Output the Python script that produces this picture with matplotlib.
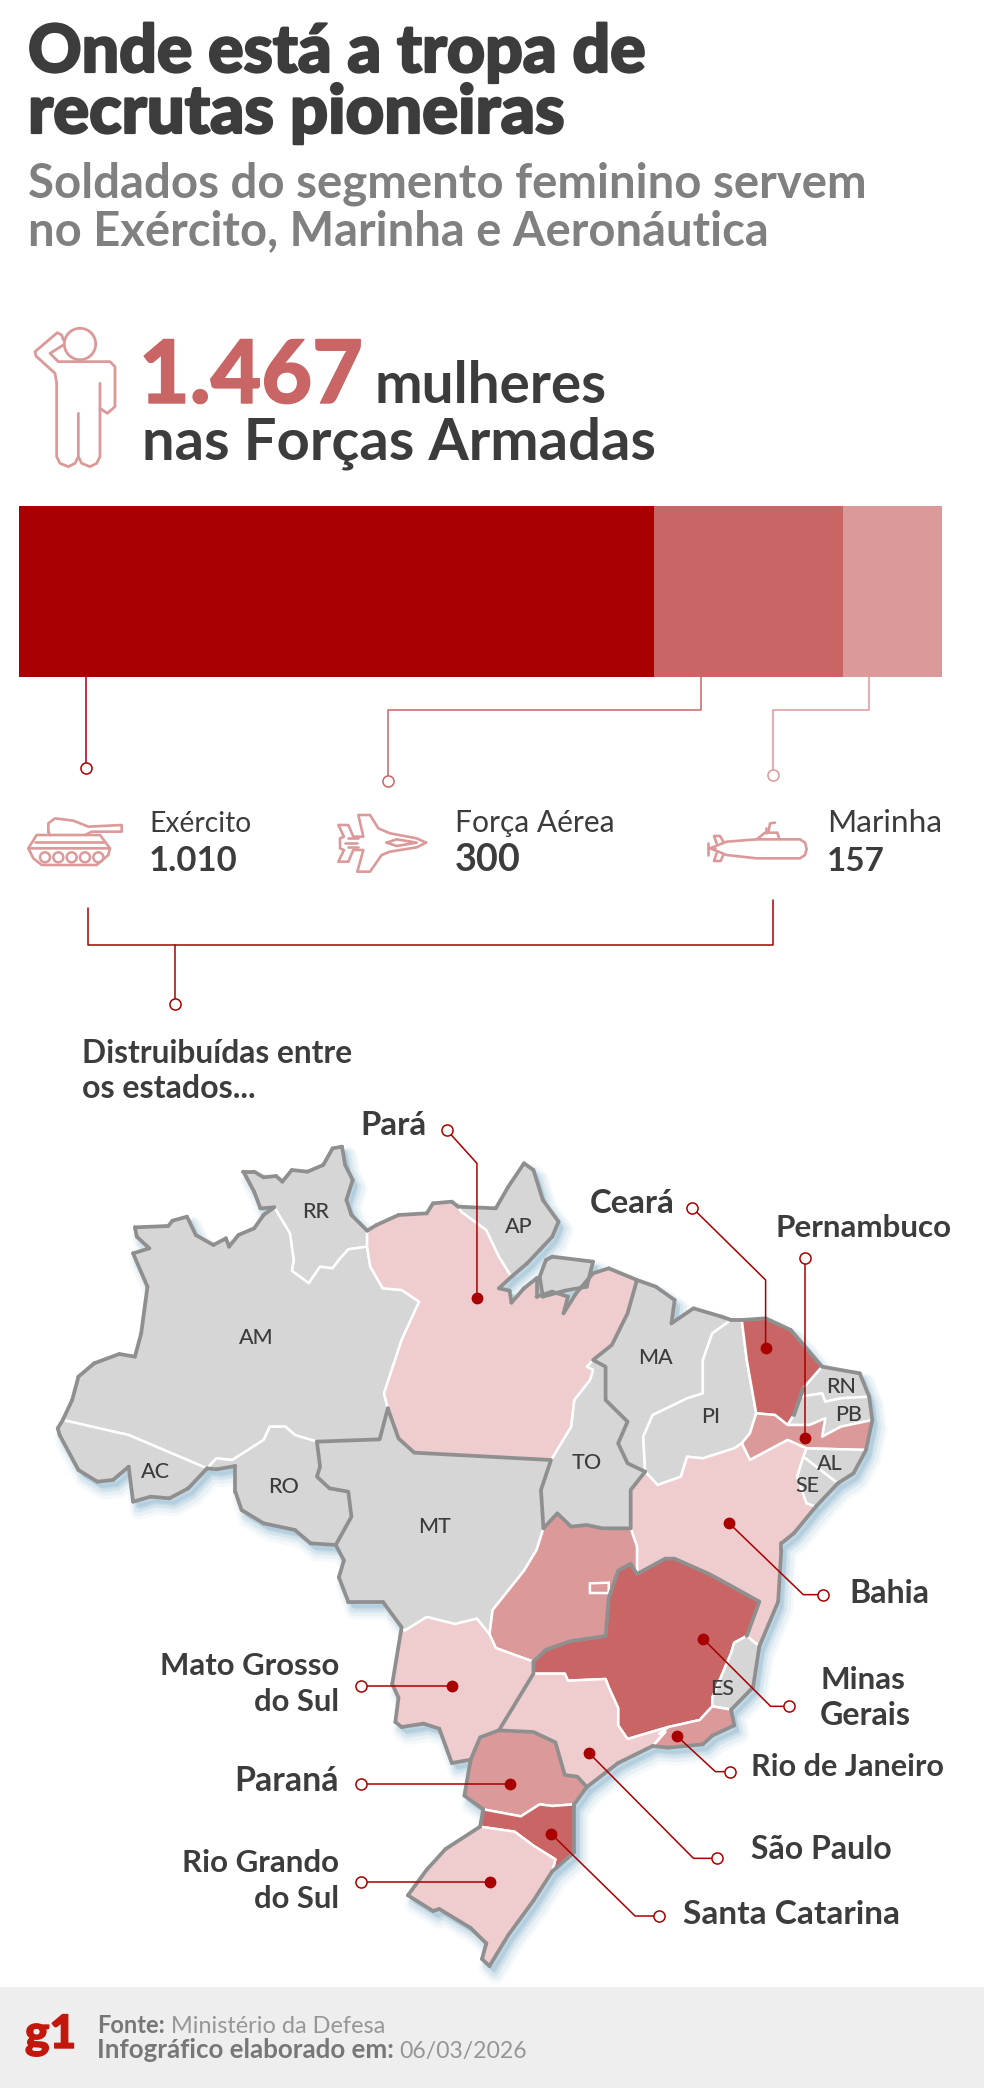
import matplotlib
matplotlib.use("Agg")
import matplotlib.pyplot as plt
import matplotlib.patheffects as pe
from matplotlib.patches import Polygon, PathPatch, Circle, Rectangle
from matplotlib.path import Path
from matplotlib.collections import LineCollection
from matplotlib.transforms import Affine2D
from collections import Counter

FONT = ["Lato", "DejaVu Sans"]
plt.rcParams["font.family"] = FONT

BRANCHES = ["Exército", "Força Aérea", "Marinha"]
COUNTS = [1010, 300, 157]
BRANCH_LABELS = ["1.010", "300", "157"]
TOTAL_LABEL = "1.467"

STRONG, DARK, MID, PALE, GRAY = "#A80000", "#C96565", "#DC9999", "#EFCCCE", "#D6D6D6"
INK, SUB, EDGE = "#3C3C3C", "#808080", "#8F8F8F"
BAR_COLORS = [STRONG, DARK, MID]


def S(pts):
    return [(x, round(1350 + 1.031 * y)) for x, y in pts]


RR = [(437,322),(415,325),(405,275),(388,215),(405,215),(420,232),(440,228),(450,245),(465,210),(490,215),(515,195),(530,145),(545,140),(550,195),(562,240),(552,300),(560,345),(585,392),(585,440),(555,448),(540,480),(530,505),(510,500),(492,550),(465,512),(468,480),(462,400)]
AM = [(215,382),(268,378),(275,362),(298,350),(312,405),(340,435),(360,415),(365,440),(380,405),(405,385),(420,345),(437,322),(462,400),(468,480),(465,512),(492,550),(510,500),(530,505),(540,480),(555,448),(585,440),(590,500),(610,565),(640,570),(668,605),(640,720),(612,880),(618,925),(605,1018),(505,1025),(470,1005),(455,980),(430,980),(420,1020),(395,1050),(370,1080),(345,1075),(330,1105),(205,1005),(100,960),(115,900),(125,830),(150,790),(190,762),(215,770),(225,700),(235,560),(212,460),(238,445),(218,410)]
AC = [(100,960),(205,1005),(330,1105),(300,1165),(270,1195),(240,1190),(212,1205),(205,1100),(180,1140),(155,1145),(125,1110),(95,1005),(92,985)]
RO = [(330,1105),(345,1075),(370,1080),(395,1050),(420,1020),(430,980),(455,980),(470,1005),(505,1025),(510,1100),(505,1130),(525,1165),(555,1175),(560,1250),(535,1335),(495,1330),(470,1290),(420,1270),(385,1230),(375,1175),(375,1098),(345,1108)]
MT = [(505,1025),(605,1018),(618,925),(635,1015),(660,1058),(878,1080),(862,1170),(866,1285),(855,1350),(835,1412),(785,1530),(780,1603),(760,1556),(725,1572),(680,1551),(645,1592),(640,1582),(610,1505),(555,1505),(540,1432),(548,1381),(535,1335),(560,1250),(555,1175),(525,1165),(505,1130),(510,1100)]
TO = [(878,1080),(910,980),(915,900),(940,840),(945,810),(935,800),(945,780),(965,800),(965,900),(1000,965),(985,1030),(1000,1090),(1028,1115),(1005,1170),(1005,1285),(960,1285),(935,1275),(910,1280),(888,1240),(866,1285),(862,1170)]
PA = [(585,392),(600,375),(635,345),(680,340),(690,310),(720,305),(730,320),(735,335),(775,390),(795,470),(815,530),(795,565),(812,572),(815,608),(835,565),(855,535),(855,590),(880,575),(905,590),(898,640),(918,580),(945,520),(970,505),(1015,540),(1000,640),(975,735),(945,780),(935,800),(945,810),(940,840),(915,900),(910,980),(878,1080),(660,1058),(635,1015),(618,925),(612,880),(640,720),(668,605),(640,570),(610,565),(590,500),(585,440)]
AP = [(730,320),(790,325),(810,260),(835,190),(850,210),(865,300),(890,365),(880,410),(860,450),(840,490),(815,530),(795,470),(775,390),(735,335)]
MARAJO = [(870,480),(880,470),(945,485),(935,560),(900,572),(865,590),(860,530)]
MA = [(1015,540),(1045,560),(1075,600),(1070,670),(1105,625),(1150,650),(1165,660),(1135,700),(1120,780),(1120,880),(1095,895),(1040,945),(1025,1010),(1028,1115),(1000,1090),(985,1030),(1000,965),(965,900),(965,800),(945,780),(975,735),(1000,640)]
PI = [(1165,660),(1182,660),(1190,780),(1205,940),(1195,1000),(1182,1030),(1170,1045),(1120,1075),(1095,1070),(1085,1130),(1048,1155),(1028,1115),(1025,1010),(1040,945),(1095,895),(1120,880),(1120,780),(1135,700)]
CE = [(1182,660),(1220,655),(1260,690),(1310,800),(1280,865),(1265,945),(1255,975),(1235,945),(1205,940),(1190,780)]
RN = [(1310,800),(1370,820),(1385,890),(1340,895),(1315,905),(1310,880),(1275,890),(1280,865)]
PB = [(1265,945),(1275,890),(1310,880),(1315,905),(1340,895),(1385,890),(1390,960),(1340,980),(1310,1010),(1315,955),(1290,975),(1255,975)]
PE = [(1205,940),(1235,945),(1255,975),(1290,975),(1315,955),(1310,1010),(1340,980),(1390,960),(1380,1050),(1285,1045),(1255,1020),(1225,1050),(1195,1080),(1182,1030),(1195,1000)]
AL = [(1285,1045),(1380,1050),(1360,1120),(1335,1150),(1280,1070)]
SE = [(1280,1070),(1335,1150),(1300,1220),(1285,1210),(1270,1130)]
BA = [(1048,1155),(1085,1130),(1095,1070),(1120,1075),(1170,1045),(1182,1030),(1195,1080),(1225,1050),(1255,1020),(1285,1045),(1280,1070),(1270,1130),(1285,1210),(1300,1220),(1265,1300),(1245,1330),(1245,1350)] + S([(1240,150),(1210,280),(1190,250),(1210,150),(1170,110),(1130,70),(1075,25),(1060,25),(1015,70)]) + [(1015,1340),(1005,1285),(1005,1170),(1028,1115)]
GO = [(888,1240),(910,1280),(935,1275),(960,1285),(1005,1285),(1015,1340)] + S([(1015,70),(1005,40),(985,60),(970,140),(965,250),(910,265),(870,290),(850,325),(790,285),(780,245),(785,175),(835,60),(855,0)]) + [(866,1285)]
MG = S([(1075,25),(1130,70),(1170,110),(1210,150),(1190,250),(1170,270),(1165,300),(1135,430),(1135,455),(1115,495),(1065,515),(1000,550),(985,510),(985,460),(970,400),(965,375),(905,380),(900,360),(850,360),(850,325),(870,290),(910,265),(965,250),(970,140),(985,60),(1005,40),(1015,70),(1060,25)])
ES = S([(1170,270),(1190,250),(1210,280),(1200,400),(1165,465),(1135,455),(1135,430),(1165,300)])
RJ = S([(1135,455),(1165,465),(1170,510),(1135,540),(1120,565),(1065,575),(1040,570),(1060,530),(1050,535),(1065,515),(1115,495)])
SP = S([(850,360),(900,360),(905,380),(965,375),(970,400),(985,460),(985,510),(1000,550),(1065,515),(1050,535),(1060,530),(1040,570),(985,620),(935,690),(920,660),(900,655),(885,560),(850,530),(795,525),(820,450)])
MS = S([(645,235),(680,195),(725,215),(760,200),(780,245),(790,285),(850,325),(850,360),(820,450),(795,525),(765,545),(750,610),(720,620),(700,520),(675,505),(640,515),(630,500),(635,430),(625,390),(640,225)])
PR = S([(795,525),(850,530),(885,560),(900,655),(920,660),(935,690),(915,740),(880,745),(860,740),(830,775),(770,755),(740,715),(750,610),(765,545)])
SC = S([(770,755),(830,775),(860,740),(880,745),(915,740),(915,880),(880,935),(885,900),(850,860),(820,820),(765,805)])
RS = S([(765,805),(820,820),(850,860),(885,900),(880,935),(850,1020),(810,1120),(780,1210),(768,1190),(775,1145),(750,1100),(700,1045),(690,1050),(650,1005),(680,930),(710,870)])
DF = S([(940,97),(970,95),(970,125),(940,125)])

STATES = [(RR,GRAY),(AM,GRAY),(AC,GRAY),(RO,GRAY),(MT,GRAY),(TO,GRAY),(PA,PALE),(AP,GRAY),(MARAJO,GRAY),(MA,GRAY),(PI,GRAY),(CE,DARK),(RN,GRAY),(PB,GRAY),(PE,MID),(AL,GRAY),(SE,GRAY),(BA,PALE),(GO,MID),(MG,DARK),(ES,GRAY),(RJ,MID),(SP,PALE),(MS,PALE),(PR,MID),(SC,DARK),(RS,PALE)]

INNER_GRAY = [
    [(618,925),(605,1018),(505,1025)],
    [(618,925),(635,1015),(660,1058),(878,1080),(862,1170),(866,1285)],
    [(866,1285),(888,1240),(910,1280),(935,1275),(960,1285),(1005,1285),(1005,1170),(1028,1115)],
    [(1028,1115),(1000,1090),(985,1030),(1000,965),(965,900),(965,800),(945,780),(975,735),(1000,640),(1015,540)],
    [(505,1025),(510,1100),(505,1130),(525,1165),(555,1175),(560,1250),(535,1335)],
    S([(850,325),(870,290),(910,265),(965,250),(970,140),(985,60),(1005,40),(1015,70),(1060,25),(1075,25),(1130,70),(1170,110),(1210,150),(1190,250)]),
    S([(850,325),(850,360),(820,450),(795,525),(850,530),(885,560),(900,655),(920,660),(935,690)]),
    S([(795,525),(765,545),(750,610)]),
]

STATE_LABELS = {"RR":(503,335),"AP":(827,380),"AM":(408,713),"MA":(1045,775),"RN":(1340,862),"PB":(1352,945),"PI":(1133,950),"AL":(1322,1092),"SE":(1286,1157),"TO":(935,1090),"AC":(248,1115),"RO":(452,1162),"MT":(693,1282),"ES":(1150,1768)}

CALLOUTS = [
    [(712,90),(760,190),(760,595)],
    [(1103,323),(1220,540),(1220,745)],
    [(1282,473),(1282,1015)],
    S([(1312,130),(1280,130)]) + [(1162,1270)],
    S([(1258,455),(1228,455),(1120,258)]),
    S([(1163,645),(1140,645),(1078,540)]),
    S([(1143,897),(1105,897),(938,590)]),
    S([(1050,1065),(1012,1065),(878,825)]),
    S([(575,397),(720,397)]),
    S([(575,681),(812,681)]),
    S([(575,965),(781,965)]),
]

W, H = 984, 2088
fig = plt.figure(figsize=(W/100, H/100), dpi=100, facecolor="white")

mx = fig.add_axes([0, 0, 1, 1])
mx.set_xlim(0, 1568); mx.set_ylim(2964, -3300); mx.axis("off")

verts, codes = [], []
for poly, _ in STATES:
    verts += list(poly) + [poly[0]]
    codes += [Path.MOVETO] + [Path.LINETO]*(len(poly)-1) + [Path.CLOSEPOLY]
country = Path(verts, codes)
for wpx, off, a in [(18, (6, -9), .10), (13, (6, -8), .16), (8, (5, -7), .26), (3, (4, -5), .40)]:
    mx.add_patch(PathPatch(country, fc="#A9C8DA", ec="#A9C8DA", lw=wpx*.72, alpha=a, joinstyle="round",
                           transform=mx.transData + Affine2D().translate(*off)))

edges = Counter()
for poly, col in STATES:
    mx.add_patch(Polygon(poly, closed=True, fc=col, ec="white", lw=1.8, joinstyle="round"))
    for a, b in zip(poly, poly[1:] + poly[:1]):
        edges[tuple(sorted((a, b)))] += 1
mx.add_patch(Polygon(DF, closed=True, fc=MID, ec="white", lw=1.8))
for line_pts in INNER_GRAY:
    xs, ys = zip(*line_pts)
    mx.plot(xs, ys, color=EDGE, lw=2.7, solid_joinstyle="round", solid_capstyle="round")
coast = [e for e, n in edges.items() if n == 1]
mx.add_collection(LineCollection(coast, colors=EDGE, linewidths=2.7, capstyle="round"))

for c in CALLOUTS:
    xs, ys = zip(*c)
    mx.plot(xs, ys, color=STRONG, lw=1.1)
    mx.plot(xs[-1], ys[-1], "o", color=STRONG, ms=8.5, mew=0)
    mx.plot(xs[0], ys[0], "o", mfc="white", mec=STRONG, ms=8, mew=1.1)
for name, (x, y) in STATE_LABELS.items():
    mx.text(x, y, name, ha="center", va="center", fontsize=15.5, color=INK, weight="medium")

bx = fig.add_axes([19/W, 1-677/H, 923/W, 171/H])
left = 0
for n, v, col in zip(BRANCHES, COUNTS, BAR_COLORS):
    bx.barh(0, v, left=left, height=1, color=col, lw=0, label=n)
    left += v
bx.set_xlim(0, sum(COUNTS)); bx.set_ylim(-.5, .5); bx.axis("off")

ax = fig.add_axes([0, 0, 1, 1])
ax.set_xlim(0, W); ax.set_ylim(H, 0); ax.axis("off"); ax.patch.set_alpha(0)

ax.add_patch(Rectangle((0, 1987), W, 101, fc="#EEEEEE", ec="none"))

renderer = fig.canvas.get_renderer()


def put(x, y, s, width, color=INK, weight="bold", ha="left", stroke=0):
    t = ax.text(x, y, s, color=color, weight=weight, ha=ha, va="baseline", fontsize=20)
    w = t.get_window_extent(renderer).width
    t.set_fontsize(20 * width / w)
    if stroke:
        t.set_path_effects([pe.withStroke(linewidth=stroke, foreground=color)])
    return t


put(28, 72, "Onde está a tropa de", 618, weight="black", stroke=1.6)
put(28, 133, "recrutas pioneiras", 538, weight="black", stroke=1.6)
put(28, 198, "Soldados do segmento feminino servem", 838, SUB)
put(28, 245, "no Exército, Marinha e Aeronáutica", 739, SUB)
put(139, 403, TOTAL_LABEL, 223, DARK, weight="black", stroke=1)
put(375, 403, "mulheres", 232)
put(142, 460, "nas Forças Armadas", 513)

put(149, 832, BRANCHES[0], 102, weight="normal")
put(149, 871, BRANCH_LABELS[0], 89)
put(455, 832, BRANCHES[1], 160, weight="normal")
put(455, 871, BRANCH_LABELS[1], 66)
put(827, 832, BRANCHES[2], 115, weight="normal")
put(827, 871, BRANCH_LABELS[2], 58)

put(82, 1063, "Distruibuídas entre", 272)
put(82, 1098, "os estados...", 174)


def zx(v):
    return v / 1.5935


put(zx(575), 1135, "Pará", 66)
put(zx(940), 1213, "Ceará", 85)
put(zx(1235), 1237, "Pernambuco", 176)
put(zx(1353), 1603, "Bahia", 80)
put(zx(1307), 1689, "Minas", 85)
put(zx(1307), 1725, "Gerais", 91)
put(zx(1197), 1776, "Rio de Janeiro", 193)
put(zx(1197), 1859, "São Paulo", 140)
put(zx(1088), 1924, "Santa Catarina", 216)
put(zx(540), 1675, "Mato Grosso", 179, ha="right")
put(zx(540), 1711, "do Sul", 85, ha="right")
put(zx(540), 1791, "Paraná", 104, ha="right")
put(zx(540), 1872, "Rio Grando", 157, ha="right")
put(zx(540), 1908, "do Sul", 85, ha="right")

put(25, 2048, "g1", 51, "#C4170C", weight="black", stroke=1)
put(97, 2033, "Fonte:", 68, "#777777")
put(171, 2033, "Ministério da Defesa", 215, "#969696", "normal")
put(97, 2058, "Infográfico elaborado em:", 296, "#777777")
put(399, 2058, "06/03/2026", 127, "#969696", "normal")


def line(pts, color, lw=1.1):
    xs, ys = zip(*pts)
    ax.plot(xs, ys, color=color, lw=lw, solid_joinstyle="round", solid_capstyle="round")


def ring(x, y, color):
    ax.plot(x, y, "o", mfc="white", mec=color, ms=8, mew=1.1)


line([(86, 677), (86, 768)], STRONG); ring(86, 768, STRONG)
line([(701, 677), (701, 710), (388, 710), (388, 781)], DARK); ring(388, 781, DARK)
line([(869, 677), (869, 710), (773, 710), (773, 775)], MID); ring(773, 775, MID)
line([(88, 908), (88, 945), (773, 945), (773, 900)], STRONG)
line([(174.5, 945), (174.5, 1004)], STRONG); ring(174.5, 1004, STRONG)

IC = MID


def icon(ox, oy, pts, lw=1.9):
    line([(ox + x / 3, oy + y / 3) for x, y in pts], IC, lw)


# soldier
ax.add_patch(Circle((80, 344), 15.7, fc="none", ec=IC, lw=2))
icon(20, 320, [(130,60),(125,45),(112,38),(45,95),(48,108),(105,160),(110,190),(110,410),(120,430),(145,440),(165,430),(175,410),(175,280)], 2)
icon(20, 320, [(175,410),(185,430),(210,440),(230,430),(240,410),(240,190)], 2)
icon(20, 320, [(130,75),(90,100),(115,125),(270,125),(285,140),(285,260),(262,280),(240,265)], 2)
# tank
icon(20, 800, [(85,95),(85,70),(105,55),(160,62),(205,80),(305,75),(305,95),(215,95),(195,105),(90,105),(85,95)])
icon(20, 800, [(90,105),(50,105),(25,145),(270,145),(240,105),(195,105)])
icon(20, 800, [(45,125),(255,125)])
icon(20, 800, [(25,145),(40,175),(65,195),(230,195),(265,165),(270,145)])
for wx in [75, 115, 155, 195, 235]:
    ax.add_patch(Circle((20 + wx/3, 800 + 172/3), 5, fc="none", ec=IC, lw=1.8))
# jet
icon(20, 800, [(1218,128),(1190,115),(1110,100),(1075,85),(1050,45),(1015,45),(1030,110),(1000,110),(985,75),(955,75),(972,110),(960,115),(960,145),(972,150),(955,185),(985,185),(1000,150),(1030,150),(1012,215),(1050,215),(1085,165),(1110,155),(1190,142),(1218,128)])
icon(20, 800, [(1100,128),(1130,118),(1190,128),(1130,138),(1100,128)])
icon(20, 800, [(975,128),(1010,128)])
icon(20, 800, [(985,115),(1015,115)]); icon(20, 800, [(985,142),(1015,142)])
# submarine
icon(690, 800, [(60,145),(110,125),(200,118),(330,118),(345,128),(350,147),(345,165),(330,175),(200,175),(110,165),(60,145)])
icon(690, 800, [(200,118),(225,98),(262,98),(268,118)])
icon(690, 800, [(235,98),(240,70),(255,68)]); icon(690, 800, [(228,98),(228,85)])
icon(690, 800, [(100,125),(90,108),(72,108),(80,130)]); icon(690, 800, [(100,165),(92,183),(72,183),(80,160)])
icon(690, 800, [(55,130),(55,165)]); icon(690, 800, [(55,145),(75,145)])

fig.savefig("out.png", dpi=100)
